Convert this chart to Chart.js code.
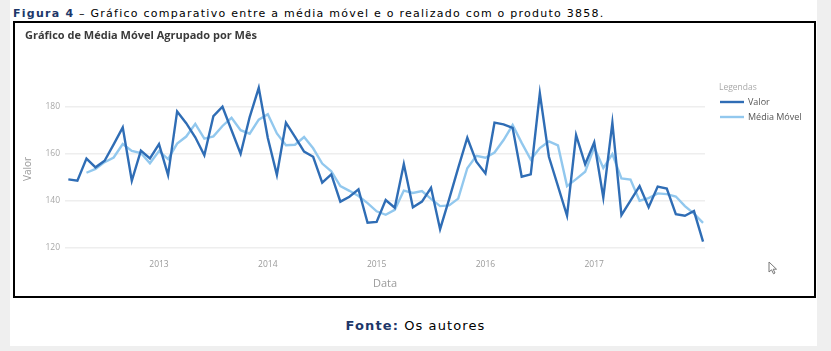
<!DOCTYPE html>
<html lang="pt-BR">
<head>
<meta charset="utf-8">
<title>Figura 4</title>
<script src="https://cdn.jsdelivr.net/npm/chart.js@4.4.0/dist/chart.umd.min.js"></script>
<style>
  html, body { margin: 0; padding: 0; }
  body { width: 831px; height: 351px; background: #efefef; position: relative; overflow: hidden; }
  #page { position: absolute; left: 10px; top: 0; width: 807px; height: 346px; background: #fff; }
  #caption { position: absolute; left: 13px; top: 7px; font: 11px "DejaVu Sans", Verdana, sans-serif; letter-spacing: 1.25px; color: #000; white-space: nowrap; }
  #caption b, #fonte b { color: #1d3769; }
  #box { position: absolute; left: 13px; top: 21px; width: 799px; height: 273px; border: 2px solid #000; background: #fff; }
  #cursor { position: absolute; left: 768px; top: 261px; }
  #fonte { position: absolute; left: 0; top: 318px; width: 831px; text-align: center; font: 13px "DejaVu Sans", Verdana, sans-serif; letter-spacing: 1.1px; color: #000; }
</style>
</head>
<body>
<div id="page"></div>
<div id="caption"><b>Figura 4</b> – Gráfico comparativo entre a média móvel e o realizado com o produto 3858.</div>
<div id="box"><canvas id="graficoMedia" width="799" height="273"></canvas></div>
<svg id="cursor" width="10" height="14" viewBox="0 0 10 14"><path d="M1 1 L1 11 L3.5 8.8 L5.5 12.8 L7 12 L5.2 8.2 L8.5 8.2 Z" fill="#fff" stroke="#777" stroke-width="1"/></svg>
<div id="fonte"><b>Fonte:</b> Os autores</div>

<script>
// meses (fim de mês) de fev/2012 a dez/2017
const meses = [
  '2012-02', '2012-03', '2012-04', '2012-05', '2012-06', '2012-07', '2012-08', '2012-09', '2012-10', '2012-11', '2012-12',
  '2013-01', '2013-02', '2013-03', '2013-04', '2013-05', '2013-06', '2013-07', '2013-08', '2013-09', '2013-10', '2013-11', '2013-12',
  '2014-01', '2014-02', '2014-03', '2014-04', '2014-05', '2014-06', '2014-07', '2014-08', '2014-09', '2014-10', '2014-11', '2014-12',
  '2015-01', '2015-02', '2015-03', '2015-04', '2015-05', '2015-06', '2015-07', '2015-08', '2015-09', '2015-10', '2015-11', '2015-12',
  '2016-01', '2016-02', '2016-03', '2016-04', '2016-05', '2016-06', '2016-07', '2016-08', '2016-09', '2016-10', '2016-11', '2016-12',
  '2017-01', '2017-02', '2017-03', '2017-04', '2017-05', '2017-06', '2017-07', '2017-08', '2017-09', '2017-10', '2017-11', '2017-12'
];

const valor = [
  149.1, 148.5, 157.9, 154.2, 157.0, 164.0, 171.2, 148.5, 161.3, 158.0, 164.1,
  150.9, 178.0, 173.0, 167.0, 159.3, 176.0, 180.0, 170.0, 160.0, 175.6, 188.0, 166.7,
  151.0, 173.2, 167.2, 160.9, 158.7, 147.7, 151.2, 139.6, 141.7, 144.8, 130.6, 131.0,
  140.3, 137.0, 155.6, 137.2, 139.6, 145.5, 127.9, 140.7, 154.0, 166.8, 156.6, 151.6,
  173.2, 172.5, 171.0, 150.2, 151.2, 185.7, 158.7, 146.2, 133.6, 167.9, 155.5, 164.8,
  141.4, 173.2, 133.9, 140.0, 146.2, 137.2, 146.0, 145.2, 134.3, 133.6, 135.6, 122.6
];

const mediaMovel = [
  null, null, 151.9, 153.5, 156.4, 158.4, 164.1, 161.2, 160.3, 155.9, 161.1,
  157.7, 164.3, 167.3, 172.7, 166.4, 167.4, 171.8, 175.3, 170.0, 168.5, 174.5, 176.8,
  168.6, 163.6, 163.8, 167.1, 162.3, 155.8, 152.5, 146.2, 144.2, 142.0, 139.0, 135.5,
  134.0, 136.1, 144.3, 143.3, 144.1, 140.8, 137.7, 138.0, 140.9, 153.8, 159.1, 158.3,
  160.5, 165.8, 172.2, 164.6, 157.5, 162.4, 165.2, 163.5, 146.2, 149.2, 152.3, 162.7,
  153.9, 159.8, 149.5, 149.0, 140.0, 141.1, 143.1, 142.8, 141.8, 137.7, 134.5, 130.6
];

const anosTicks = [2013, 2014, 2015, 2016, 2017];
const valorTicks = [120, 140, 160, 180];

// posição do fim de cada mês em anos fracionários
function mesParaX(m) {
  const [ano, mes] = m.split('-').map(Number);
  return ano + mes / 12;
}

function serie(valores) {
  return meses.map((m, i) => ({ x: mesParaX(m), y: valores[i] }));
}

// legenda lateral no estilo do print
const legendaLateral = {
  id: 'legendaLateral',
  afterDraw(chart) {
    const { ctx, chartArea } = chart;
    const x = chartArea.right + 14;
    let y = chartArea.top + 9.5;
    ctx.save();
    ctx.textBaseline = 'middle';
    ctx.textAlign = 'left';
    ctx.font = '8.5px "Open Sans"';
    ctx.fillStyle = '#a9a9a9';
    ctx.fillText('Legendas', x, y);
    y += 14;
    chart.data.datasets.forEach(ds => {
      ctx.strokeStyle = ds.borderColor;
      ctx.lineWidth = ds.borderWidth;
      ctx.beginPath();
      ctx.moveTo(x + 1, y);
      ctx.lineTo(x + 25, y);
      ctx.stroke();
      ctx.fillStyle = '#555';
      ctx.font = '9px "Open Sans"';
      ctx.fillText(ds.label, x + 29, y);
      y += 15;
    });
    ctx.restore();
  }
};

Chart.defaults.font.family = '"Open Sans", sans-serif';

const ctx = document.getElementById('graficoMedia').getContext('2d');
new Chart(ctx, {
  type: 'line',
  data: {
    datasets: [
      {
        label: 'Valor',
        data: serie(valor),
        borderColor: '#2f6db5',
        borderWidth: 2.4,
        pointRadius: 0,
        tension: 0
      },
      {
        label: 'Média Móvel',
        data: serie(mediaMovel),
        borderColor: '#92c8ee',
        borderWidth: 2.4,
        pointRadius: 0,
        tension: 0
      }
    ]
  },
  options: {
    responsive: false,
    animation: false,
    devicePixelRatio: 1,
    layout: { padding: { left: 10, right: 109, top: 0, bottom: 3.4 } },
    plugins: {
      legend: { display: false },
      tooltip: { enabled: false },
      title: {
        display: true,
        text: 'Gráfico de Média Móvel Agrupado por Mês',
        align: 'start',
        color: '#3a3a3a',
        font: { size: 11, weight: 'bold' },
        padding: { top: 6.4, bottom: 35.9 }
      }
    },
    scales: {
      x: {
        type: 'linear',
        min: 2012.136,
        max: 2018.018,
        grid: { display: false, drawTicks: false },
        border: { display: false },
        afterBuildTicks: s => { s.ticks = anosTicks.map(v => ({ value: v })); },
        afterFit: s => { s.height = 33.15; },
        ticks: {
          color: '#9a9a9a',
          font: { size: 8.5 },
          padding: 0,
          maxRotation: 0,
          callback: v => String(v)
        },
        title: {
          display: true,
          text: 'Data',
          color: '#9a9a9a',
          font: { size: 11 },
          padding: { top: 0, bottom: 2 }
        }
      },
      y: {
        min: 115,
        max: 192,
        afterBuildTicks: s => { s.ticks = valorTicks.map(v => ({ value: v })); },
        afterFit: s => { s.width = 40; },
        grid: { color: '#eeeeee', lineWidth: 1.5, drawTicks: false },
        border: { display: false },
        ticks: { color: '#a8a8a8', font: { size: 8.5 }, padding: 5 },
        title: {
          display: true,
          text: 'Valor',
          color: '#9a9a9a',
          font: { size: 10 },
          padding: { top: -3, bottom: 0 }
        }
      }
    }
  },
  plugins: [legendaLateral]
});
</script>
</body>
</html>
